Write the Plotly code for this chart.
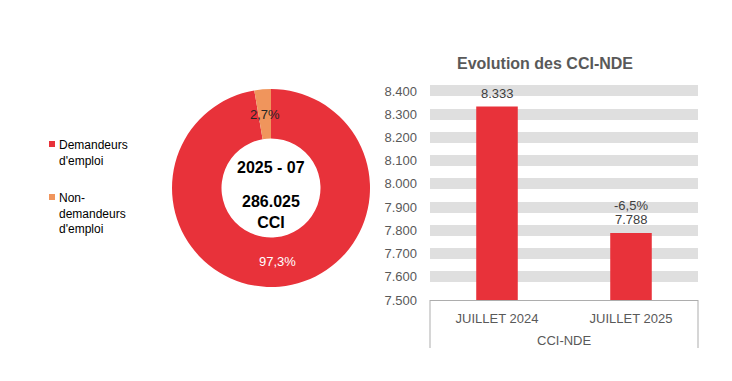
import math
import plotly.graph_objects as go

# ---- data ----
pie_labels = ["Demandeurs d'emploi", "Non-demandeurs d'emploi"]
legend_labels = ["Demandeurs<br>d'emploi", "Non-<br>demandeurs<br>d'emploi"]
pie_values = [97.3, 2.7]
pie_colors = ["#E8323A", "#F0955C"]
center_period = "2025 - 07"
center_total = "286.025"
center_unit = "CCI"

bar_group = "CCI-NDE"
bar_periods = ["JUILLET 2024", "JUILLET 2025"]
bar_values = [8333, 7788]
bar_changes = [None, -6.5]
y_ticks = [7500, 7600, 7700, 7800, 7900, 8000, 8100, 8200, 8300, 8400]
bar_title = "Evolution des CCI-NDE"

FONT = "Liberation Sans, Arial, sans-serif"
W, H = 732, 381

def fmt_int(v):
    return f"{v:,.0f}".replace(",", ".")

def fmt_pct(v):
    return f"{v:.1f}".replace(".", ",") + "%"

def px(x):
    return x / W

def py(y):
    return 1 - y / H

fig = go.Figure()

# ---- donut ----
pie_dom_x = [px(172), px(370)]
pie_dom_y = [py(287), py(89)]
fig.add_trace(go.Pie(
    labels=pie_labels, values=pie_values, hole=0.5, sort=False,
    direction="clockwise", rotation=0,
    marker=dict(colors=pie_colors, line=dict(width=0)),
    textinfo="none", showlegend=False, hoverinfo="label+percent",
    domain=dict(x=pie_dom_x, y=pie_dom_y),
))

# slice labels placed at middle of the ring
cx = (pie_dom_x[0] + pie_dom_x[1]) / 2 * W
cy = (1 - (pie_dom_y[0] + pie_dom_y[1]) / 2) * H
R = (pie_dom_x[1] - pie_dom_x[0]) * W / 2
rmid = R * 0.75
total = sum(pie_values)
cum = 0
label_colors = ["#FFFFFF", "#262626"]
for v, c in zip(pie_values, label_colors):
    ang = math.radians((cum + v / 2) / total * 360)
    cum += v
    lx = cx + rmid * math.sin(ang)
    ly = cy - rmid * math.cos(ang)
    fig.add_annotation(x=px(lx), y=py(ly), xref="paper", yref="paper",
                       xanchor="center", yanchor="middle",
                       text=fmt_pct(v), showarrow=False,
                       font=dict(family=FONT, size=13, color=c))

# center text
fig.add_annotation(x=px(cx), y=py(167), xref="paper", yref="paper",
                   xanchor="center", yanchor="middle",
                   text=f"<b>{center_period}</b>", showarrow=False,
                   font=dict(family=FONT, size=16, color="#000000"))
fig.add_annotation(x=px(cx), y=py(212), xref="paper", yref="paper",
                   xanchor="center", yanchor="middle",
                   text=f"<b>{center_total}<br>{center_unit}</b>", showarrow=False,
                   font=dict(family=FONT, size=16, color="#000000"))

# manual legend
leg_y = [144, 197]
for t, col, yy in zip(legend_labels, pie_colors, leg_y):
    fig.add_shape(type="rect", xref="paper", yref="paper",
                  x0=px(49), x1=px(55), y0=py(yy + 3), y1=py(yy - 3),
                  fillcolor=col, line=dict(width=0))
    fig.add_annotation(x=px(57), y=py(yy - 8), xref="paper", yref="paper",
                       xanchor="left", yanchor="top", align="left",
                       text=t, showarrow=False,
                       font=dict(family=FONT, size=12, color="#000000"))

# ---- bars ----
fig.add_trace(go.Bar(
    x=bar_periods, y=bar_values,
    marker=dict(color="#E8323A", line=dict(width=0)),
    showlegend=False, xaxis="x", yaxis="y",
))

for cat, v, ch in zip(bar_periods, bar_values, bar_changes):
    fig.add_annotation(x=cat, y=v, xref="x", yref="y",
                       xanchor="center", yanchor="bottom", yshift=4,
                       text=fmt_int(v), showarrow=False,
                       font=dict(family=FONT, size=13, color="#404040"))
    if ch is not None:
        fig.add_annotation(x=cat, y=v, xref="x", yref="y",
                           xanchor="center", yanchor="bottom", yshift=18,
                           text=fmt_pct(ch), showarrow=False,
                           font=dict(family=FONT, size=13, color="#404040"))

plot_top = 300 - (8420 - 7500) * (209 / 900)
fig.update_layout(
    width=W, height=H, autosize=False,
    margin=dict(l=0, r=0, t=0, b=0, autoexpand=False),
    paper_bgcolor="white", plot_bgcolor="white",
    bargap=0.69,
    separators=",.",
    xaxis=dict(domain=[px(430), px(698)], anchor="y", automargin=False,
               showline=True, linecolor="#ADADAD", linewidth=1,
               showgrid=False, ticks="", ticklabelstandoff=6,
               tickfont=dict(family=FONT, size=13, color="#595959")),
    yaxis=dict(domain=[py(300), py(plot_top)], anchor="x", automargin=False,
               range=[7500, 8420], tickvals=y_ticks,
               ticktext=[fmt_int(t) for t in y_ticks],
               showgrid=True, gridcolor="#DFDFDF", gridwidth=11,
               zeroline=False, showline=False, ticks="",
               ticklabelstandoff=12,
               tickfont=dict(family=FONT, size=13, color="#595959")),
    font=dict(family=FONT),
)

# category group label + dividers
fig.add_annotation(x=0.5, y=py(340), xref="x domain", yref="paper",
                   xanchor="center", yanchor="middle",
                   text=bar_group, showarrow=False,
                   font=dict(family=FONT, size=13, color="#595959"))
for xd in (0, 1):
    fig.add_shape(type="line", xref="x domain", yref="paper",
                  x0=xd, x1=xd, y0=py(300), y1=py(348),
                  line=dict(color="#ADADAD", width=1))

fig.add_annotation(x=px(545), y=py(63), xref="paper", yref="paper",
                   xanchor="center", yanchor="middle",
                   text=f"<b>{bar_title}</b>", showarrow=False,
                   font=dict(family=FONT, size=16, color="#595959"))

fig.write_html("out.html", config={"displayModeBar": False},
               post_script="document.body.style.margin='0';")
